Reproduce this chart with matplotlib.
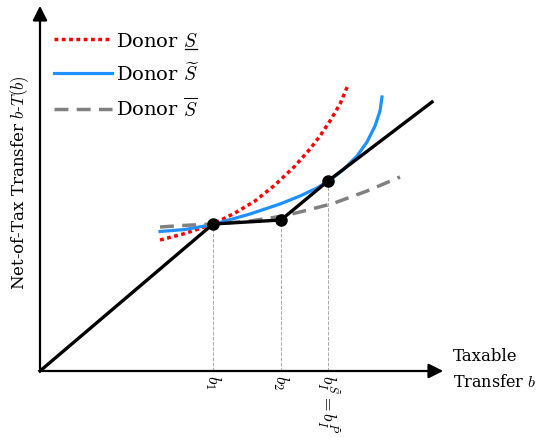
import numpy as np
import matplotlib
matplotlib.use("Agg")
import matplotlib.pyplot as plt
from matplotlib.lines import Line2D

plt.rcParams['font.family'] = 'DejaVu Serif'
plt.rcParams['mathtext.fontset'] = 'cm'

# ===== DATA (origin of the diagram at 0,0) =====
# tax schedule b -> b - T(b), kinks at b1, b2, bI
sched_x = [0, 173, 241, 288, 392]
sched_y = [0, 147, 151, 190, 269]
kink_x = [173, 241, 288]
kink_y = [147, 151, 190]
kink_labels = [r'$b_1$', r'$b_2$', r'$b_I^{\widetilde{S}}=b_I^{\widetilde{P}}$']

# indifference curves of the three donors
red_x = [120, 145, 173, 195, 215, 235, 255, 270, 280, 290, 300, 308]
red_y = [131, 137.5, 147, 158, 170, 186, 205, 222, 235, 250, 267, 286]
blue_x = [120, 145, 173, 210, 240, 260, 277, 290, 303, 317, 327, 335, 340, 342]
blue_y = [139.5, 141.5, 146.5, 157, 167, 175, 183, 191, 201, 215, 229, 245, 260, 274]
gray_x = [120, 143, 173, 210, 243, 260, 293, 327, 360]
gray_y = [144, 145.5, 147, 150, 155, 159, 167.5, 180, 194]

# first label gets an underline drawn by hand (no \underline in mathtext)
labels = [r'Donor $S$', r'Donor $\widetilde{S}$', r'Donor $\overline{S}$']

fig = plt.figure(figsize=(5.36, 4.39), dpi=100)
ax = fig.add_axes([0, 0, 1, 1])
ax.set_xlim(-40, 496)
ax.set_ylim(-67, 372)
ax.axis('off')

# axes with arrows
arr = dict(arrowstyle='-|>', color='black', lw=1.6, mutation_scale=22)
ax.annotate('', xy=(406, 0), xytext=(-1, 0), arrowprops=arr)
ax.annotate('', xy=(0, 368), xytext=(0, -1), arrowprops=arr)

# curves
ax.plot(red_x, red_y, color='red', lw=2.5, dashes=(1.1, 1.0), label=labels[0])
ax.plot(blue_x, blue_y, '-', color='#1e90ff', lw=2.3, label=labels[1])
ax.plot(gray_x, gray_y, color='#808080', lw=2.5, dashes=(4, 2.4), label=labels[2])

# guide lines down to axis
for kx, ky in zip(kink_x, kink_y):
    ax.plot([kx, kx], [0, ky], '--', color='#aaaaaa', lw=0.7, zorder=1)

ax.plot(sched_x, sched_y, '-', color='black', lw=2.4, zorder=4)
ax.plot(kink_x, kink_y, 'o', color='black', ms=8, zorder=5)

for kx, lab in zip(kink_x, kink_labels):
    ax.text(kx, -3, lab, rotation=-90, ha='center', va='top', fontsize=12.5)

ax.text(-20, 189, r'Net-of-Tax Transfer $b$-$T(b)$', rotation=90,
        ha='center', va='center', fontsize=12)
ax.text(413, 15, 'Taxable', ha='left', va='center', fontsize=12)
ax.text(413, -11, r'Transfer $b$', ha='left', va='center', fontsize=11.5)

leg = ax.legend(loc='upper left', bbox_to_anchor=(0.083, 0.948), frameon=False,
                fontsize=14, handlelength=2.95, handletextpad=0.25,
                labelspacing=0.62, borderpad=0)

# underline the S of the first entry
fig.canvas.draw()
bb = leg.get_texts()[0].get_window_extent()
x0, y0 = bb.x1 - 13, bb.y0 + 1
fig.add_artist(Line2D([x0 / fig.bbox.width, (bb.x1 - 1) / fig.bbox.width],
                      [y0 / fig.bbox.height, y0 / fig.bbox.height],
                      color='black', lw=0.9))

fig.savefig('out.png', dpi=100)
